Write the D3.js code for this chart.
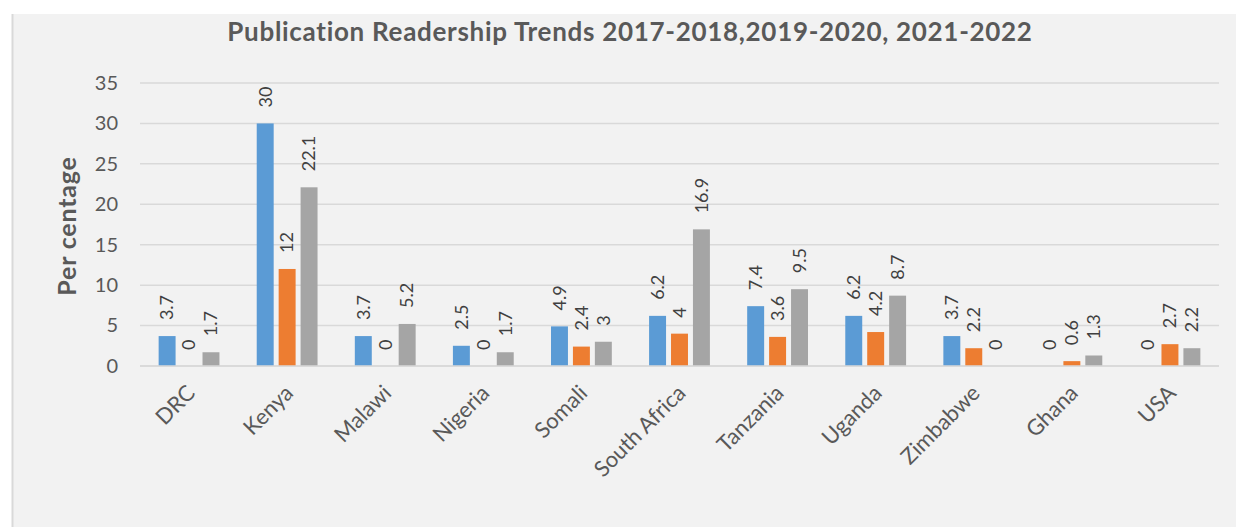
<!DOCTYPE html>
<html>
<head>
<meta charset="utf-8">
<script src="https://cdn.jsdelivr.net/npm/d3@7"></script>
<style>
  html, body { margin: 0; padding: 0; background: #ffffff; }
  svg { display: block; font-family: Lato, "Open Sans", sans-serif; }
</style>
</head>
<body>
<svg id="chart" width="1236" height="527"></svg>
<script>
// Readership share (%) by country for each period
const countries = ["DRC", "Kenya", "Malawi", "Nigeria", "Somali", "South Africa",
                   "Tanzania", "Uganda", "Zimbabwe", "Ghana", "USA"];
const periods = ["2017-2018", "2019-2020", "2021-2022"];
const values2017_2018 = [3.7, 30, 3.7, 2.5, 4.9, 6.2, 7.4, 6.2, 3.7, 0, 0];
const values2019_2020 = [0, 12, 0, 0, 2.4, 4, 3.6, 4.2, 2.2, 0.6, 2.7];
const values2021_2022 = [1.7, 22.1, 5.2, 1.7, 3, 16.9, 9.5, 8.7, 0, 1.3, 2.2];
const yTicks = [0, 5, 10, 15, 20, 25, 30, 35];
const colors = ["#5B9BD5", "#ED7D31", "#A5A5A5"];

const seriesValues = [values2017_2018, values2019_2020, values2021_2022];

const svg = d3.select("#chart");
const W = 1236, H = 527;
const plot = { left: 140, right: 1219, top: 83, bottom: 366 };

// chart area background
svg.append("rect").attr("x", 12).attr("y", 14).attr("width", W - 12).attr("height", H - 14)
  .attr("fill", "#F2F2F2");
svg.append("line").attr("x1", 12.5).attr("x2", 12.5).attr("y1", 14).attr("y2", H)
  .attr("stroke", "#D9D9D9").attr("stroke-width", 2);

// title
svg.append("text")
  .attr("x", 630).attr("y", 41)
  .attr("text-anchor", "middle")
  .attr("font-size", 26).attr("font-weight", "bold")
  .attr("letter-spacing", 0.7)
  .attr("fill", "#595959")
  .text("Publication Readership Trends 2017-2018,2019-2020, 2021-2022");

const x0 = d3.scaleBand().domain(countries).range([plot.left, plot.right]);
const groupWidth = x0.bandwidth() * 0.62;
const x1 = d3.scaleBand().domain(periods)
  .range([(x0.bandwidth() - groupWidth) / 2, (x0.bandwidth() + groupWidth) / 2])
  .paddingInner(0.227).paddingOuter(0);
const y = d3.scaleLinear().domain([0, 35]).range([plot.bottom, plot.top]);

// gridlines
svg.append("g").selectAll("line").data(yTicks).join("line")
  .attr("x1", plot.left).attr("x2", plot.right)
  .attr("y1", d => y(d)).attr("y2", d => y(d))
  .attr("stroke", "#D9D9D9").attr("stroke-width", 1.5);

// y axis labels
const yAxis = svg.append("g")
  .attr("transform", `translate(${plot.left},0)`)
  .call(d3.axisLeft(y).tickValues(yTicks).tickSize(0).tickPadding(22));
yAxis.select(".domain").remove();
yAxis.selectAll("text").attr("font-size", 20).attr("fill", "#595959")
  .attr("font-family", "Lato, 'Open Sans', sans-serif");

// y axis title
svg.append("text")
  .attr("transform", "translate(76,226) rotate(-90)")
  .attr("text-anchor", "middle")
  .attr("font-size", 25).attr("font-weight", "bold").attr("fill", "#595959")
  .attr("letter-spacing", 0.8)
  .text("Per centage");

// bars
const rows = countries.map((c, i) => ({
  country: c,
  items: periods.map((p, k) => ({ period: p, value: seriesValues[k][i], k }))
}));

const groups = svg.append("g").selectAll("g").data(rows).join("g")
  .attr("transform", d => `translate(${x0(d.country)},0)`);

groups.selectAll("rect").data(d => d.items).join("rect")
  .attr("x", d => x1(d.period))
  .attr("y", d => y(d.value))
  .attr("width", x1.bandwidth())
  .attr("height", d => y(0) - y(d.value))
  .attr("fill", d => colors[d.k]);

// value labels, rotated
groups.selectAll("text.val").data(d => d.items).join("text")
  .attr("class", "val")
  .attr("transform", d => `translate(${x1(d.period) + x1.bandwidth() / 2},${y(d.value) - 16}) rotate(-90)`)
  .attr("dy", "0.35em")
  .attr("text-anchor", "start")
  .attr("font-size", 18).attr("fill", "#404040")
  .text(d => d.value);

// baseline
svg.append("line")
  .attr("x1", plot.left).attr("x2", plot.right)
  .attr("y1", y(0)).attr("y2", y(0))
  .attr("stroke", "#D9D9D9").attr("stroke-width", 1.5);

// category labels
svg.append("g").selectAll("text").data(countries).join("text")
  .attr("transform", d => `translate(${x0(d) + x0.bandwidth() / 2 + 2},${plot.bottom + 23}) rotate(-45)`)
  .attr("text-anchor", "end")
  .attr("dy", "0.35em")
  .attr("font-size", 22).attr("fill", "#595959")
  .text(d => d);
</script>
</body>
</html>
